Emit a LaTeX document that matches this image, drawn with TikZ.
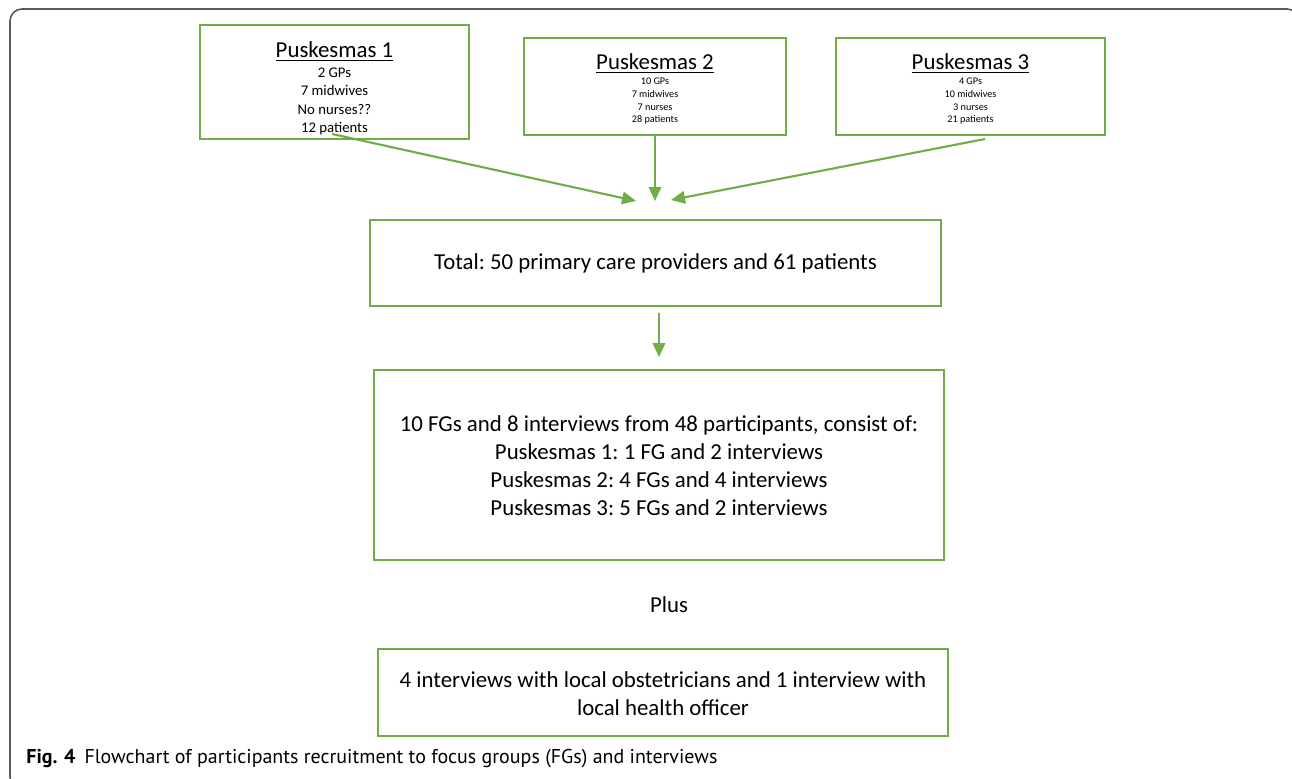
\documentclass[tikz,border=0pt]{standalone}
\usepackage{fontspec}
\setmainfont{Carlito}
\newfontfamily\capfont{PT Sans}
\usetikzlibrary{arrows.meta}
\definecolor{offgreen}{HTML}{70AD47}
\definecolor{framegray}{HTML}{5A5A5A}
\tikzset{
  gbox/.style={draw=offgreen, line width=1.3pt, align=center, inner sep=0pt},
  garrow/.style={draw=offgreen, line width=1.2pt, -{Triangle[length=0.28cm,width=0.25cm]}},
  bigtext/.style={font=\frenchspacing\fontsize{13}{15.9}\selectfont}
}
\begin{document}
\begin{tikzpicture}[x=0.02cm,y=-0.02cm]
\useasboundingbox (0,0) rectangle (1292,778);
\draw[framegray, line width=0.9pt, rounded corners=0.24cm] (10,9) rectangle (1299,789);
% top boxes
\node[gbox, font=\fontsize{8.4}{10.6}\selectfont, minimum width=5.38cm, minimum height=2.28cm] (p1) at (334.5,82)
  {\rule{0pt}{16.6pt}{\fontsize{13}{16}\selectfont\underline{Puskesmas 1}}\\[0.4pt]
   2 GPs\\7 midwives\\No nurses??\\12 patients};
\node[gbox, font=\fontsize{5.8}{7.2}\selectfont, minimum width=5.24cm, minimum height=1.94cm] (p2) at (655,86.5)
  {\rule{0pt}{12pt}{\fontsize{13}{16}\selectfont\underline{Puskesmas 2}}\\[1.6pt]
   10 GPs\\7 midwives\\7 nurses\\28 patients};
\node[gbox, font=\fontsize{5.8}{7.2}\selectfont, minimum width=5.38cm, minimum height=1.94cm] (p3) at (970.5,86.5)
  {\rule{0pt}{12pt}{\fontsize{13}{16}\selectfont\underline{Puskesmas 3}}\\[1.6pt]
   4 GPs\\10 midwives\\3 nurses\\21 patients};
\node[gbox, bigtext, minimum width=11.42cm, minimum height=1.72cm] (total) at (655.5,263)
  {\raisebox{-3.5pt}{Total: 50 primary care providers and 61 patients}};
\node[gbox, bigtext, minimum width=11.4cm, minimum height=3.8cm] (fg) at (659,465)
  {\rule{0pt}{10.2pt}10 FGs and 8 interviews from 48 participants, consist of:\\
   Puskesmas 1: 1 FG and 2 interviews\\
   Puskesmas 2: 4 FGs and 4 interviews\\
   Puskesmas 3: 5 FGs and 2 interviews};
\node[bigtext] (plus) at (669,605) {Plus};
\node[gbox, bigtext, minimum width=11.4cm, minimum height=1.74cm] (last) at (663,692.5)
  {\rule{0pt}{10.2pt}4 interviews with local obstetricians and 1 interview with\\local health officer};
% arrows
\coordinate (s1) at (332,134);
\coordinate (t1) at (636,201);
\coordinate (t2) at (655,201);
\coordinate (s3) at (985,139);
\coordinate (t3) at (671,200);
\coordinate (t4) at (659,357);
\coordinate (s4) at (659,313);
\draw[garrow] (s1) -- (t1);
\draw[garrow] (p2.south) -- (t2);
\draw[garrow] (s3) -- (t3);
\draw[garrow] (s4) -- (t4);
% caption
\node[anchor=base west, inner sep=0pt, font=\capfont\fontsize{11.37}{14}\selectfont] (caption) at (26,763)
  {\textbf{Fig. 4}\hspace{0.45em}Flowchart of participants recruitment to focus groups (FGs) and interviews};
\end{tikzpicture}
\end{document}
